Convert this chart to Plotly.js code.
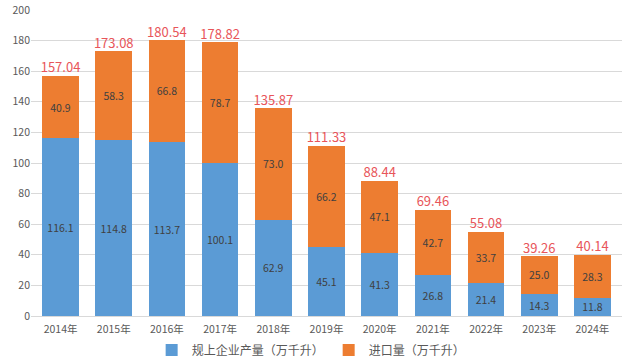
<!DOCTYPE html>
<html><head><meta charset="utf-8">
<script src="https://cdn.plot.ly/plotly-3.0.1.min.js"></script>
<style>body{margin:0;background:#fff}#c{width:635px;height:363px}</style>
</head><body><div id="c"></div>
<script>
const years = ["2014年","2015年","2016年","2017年","2018年","2019年","2020年","2021年","2022年","2023年","2024年"];
const production = [116.1,114.8,113.7,100.1,62.9,45.1,41.3,26.8,21.4,14.3,11.8];
const imports = [40.9,58.3,66.8,78.7,73.0,66.2,47.1,42.7,33.7,25.0,28.3];
const totals = [157.04,173.08,180.54,178.82,135.87,111.33,88.44,69.46,55.08,39.26,40.14];
const fontFam = '"Noto Sans CJK SC", "Noto Sans", sans-serif';
const traces = [
 {type:'bar', name:'规上企业产量（万千升）', x:years, y:production,
  marker:{color:'#5b9bd5'}, text:production.map(v=>v.toFixed(1)), textposition:'inside',
  insidetextanchor:'middle', constraintext:'none', textfont:{size:10.5,color:'#404040',family:fontFam}, hoverinfo:'none'},
 {type:'bar', name:'进口量（万千升）', x:years, y:imports,
  marker:{color:'#ed7d31'}, text:imports.map(v=>v.toFixed(1)), textposition:'inside',
  insidetextanchor:'middle', constraintext:'none', textfont:{size:10.5,color:'#404040',family:fontFam}, hoverinfo:'none'},
 {type:'scatter', mode:'text', x:years, y:totals, text:totals.map(v=>v.toFixed(2)),
  textposition:'top center', textfont:{size:13,color:'#e8555a',family:fontFam},
  showlegend:false, hoverinfo:'none', cliponaxis:false}
];
const layout = {
 width:635, height:363, barmode:'stack', bargap:0.31,
 margin:{l:31, r:13, t:10, b:47},
 paper_bgcolor:'#fff', plot_bgcolor:'#fff',
 font:{family:fontFam, size:10.5, color:'#595959'},
 xaxis:{showgrid:false, showline:true, linecolor:'#d9d9d9', ticks:'', ticklabelstandoff:3, tickfont:{size:10.5,color:'#595959'}, automargin:false},
 yaxis:{range:[0,200], dtick:20, showgrid:true, gridcolor:'#d9d9d9', zeroline:false, showline:false,
  tickfont:{size:10.5,color:'#595959'}, ticks:'', automargin:false},
 legend:{orientation:'h', x:0.49, xanchor:'center', xref:'container', yref:'container', y:0.036, yanchor:'middle',
  font:{size:12,color:'#595959'}, traceorder:'normal', itemwidth:30},
 showlegend:true
};
Plotly.newPlot('c', traces, layout, {displayModeBar:false, staticPlot:true});
</script></body></html>
